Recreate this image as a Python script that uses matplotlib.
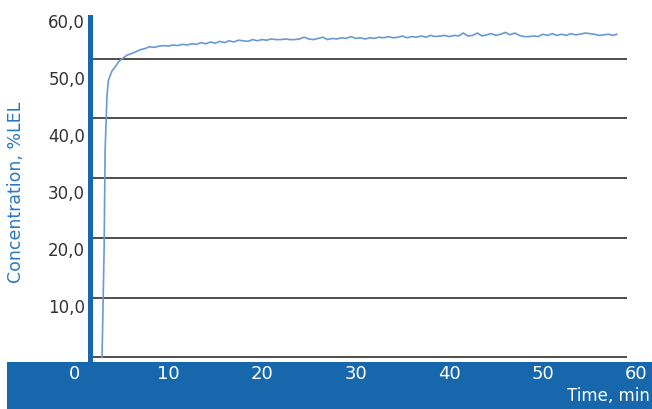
import matplotlib
matplotlib.use("Agg")
import matplotlib.pyplot as plt

# measured concentration trace (%LEL) against time (min)
time_min = [
    2.92, 3.14, 3.25, 3.36, 3.45, 3.6, 4.0, 4.36, 4.7, 5.07, 5.6, 6.3, 7.0, 7.5,
    8.0, 8.5, 9.0, 9.5, 10.0, 10.5, 11.0, 11.5, 12.0, 12.5, 13.0, 13.5, 14.0, 14.5,
    15.0, 15.5, 16.0, 16.5, 17.0, 17.5, 18.0, 18.5, 19.0, 19.5, 20.0, 20.5, 21.0, 21.5,
    22.0, 22.5, 23.0, 23.5, 24.0, 24.5, 25.0, 25.5, 26.0, 26.5, 27.0, 27.5, 28.0, 28.5,
    29.0, 29.5, 30.0, 30.5, 31.0, 31.5, 32.0, 32.5, 33.0, 33.5, 34.0, 34.5, 35.0, 35.5,
    36.0, 36.5, 37.0, 37.5, 38.0, 38.5, 39.0, 39.5, 40.0, 40.5, 41.0, 41.5, 42.0, 42.5,
    43.0, 43.5, 44.0, 44.5, 45.0, 45.5, 46.0, 46.5, 47.0, 47.5, 48.0, 48.5, 49.0, 49.5,
    50.0, 50.5, 51.0, 51.5, 52.0, 52.5, 53.0, 53.5, 54.0, 54.5, 55.0, 55.5, 56.0, 56.5,
    57.0, 57.5, 57.9,
]
conc_lel = [
    0.0, 17.9, 34.7, 39.7, 43.9, 46.4, 48.0, 48.7, 49.5, 50.0, 50.6, 51.0, 51.5, 51.7,
    52.0, 51.9, 52.1, 52.2, 52.1, 52.3, 52.2, 52.4, 52.3, 52.5, 52.4, 52.7, 52.5, 52.8,
    52.6, 52.9, 52.7, 53.0, 52.8, 53.1, 53.0, 52.9, 53.2, 53.0, 53.2, 53.1, 53.3, 53.2,
    53.2, 53.3, 53.2, 53.2, 53.3, 53.6, 53.3, 53.2, 53.4, 53.6, 53.2, 53.4, 53.3, 53.5,
    53.4, 53.7, 53.4, 53.5, 53.3, 53.5, 53.4, 53.6, 53.5, 53.7, 53.5, 53.6, 53.8, 53.5,
    53.7, 53.6, 53.8, 53.6, 53.9, 53.7, 53.8, 53.9, 53.7, 53.9, 53.8, 54.3, 53.8, 53.9,
    54.3, 53.8, 54.0, 54.2, 53.9, 54.1, 54.4, 54.0, 54.3, 53.9, 53.7, 53.7, 53.8, 53.7,
    54.1, 53.9, 54.2, 53.9, 54.1, 53.9, 54.2, 54.0, 54.1, 54.3, 54.2, 54.1, 53.9, 54.0,
    54.1, 53.9, 54.1,
]

grid_levels = [0, 10, 20, 30, 40, 50]
y_tick_values = [10, 20, 30, 40, 50, 60]
y_tick_labels = ["10,0", "20,0", "30,0", "40,0", "50,0", "60,0"]
x_tick_values = [0, 10, 20, 30, 40, 50, 60]

BLUE = "#1767ad"
LINE_BLUE = "#6a99d5"
W, H = 652, 409


def box(left, top, right, bottom):
    return [left / W, 1 - bottom / H, (right - left) / W, (bottom - top) / H]


def px_to_t(px):
    return (px - 74.7) / 9.363


plt.rcParams["font.family"] = ["DejaVu Sans"]

fig = plt.figure(figsize=(W / 100, H / 100), dpi=100)

ax = fig.add_axes(box(90, 17, 627, 362))
ax.set_xlim(px_to_t(90), px_to_t(627))
ax.set_ylim((357.3 - 362) / 5.972, (357.3 - 17) / 5.972)
ax.hlines(grid_levels, px_to_t(92), px_to_t(627), color="#1e1e1e", linewidth=1.1, zorder=1)
ax.plot(time_min, conc_lel, color=LINE_BLUE, linewidth=1.2, zorder=2)
for side in ("top", "right", "bottom"):
    ax.spines[side].set_visible(False)
ax.spines["left"].set_color(BLUE)
ax.spines["left"].set_linewidth(3.6)
ax.spines["left"].set_zorder(3)
ax.set_xticks([])
ax.set_yticks([])

# tick labels sit on their own scale in the original, a little below each gridline
lab = ax.twinx()
lab.set_ylim(0.18, 60.7)
lab.yaxis.tick_left()
lab.set_yticks(y_tick_values)
lab.set_yticklabels(y_tick_labels)
lab.tick_params(axis="y", length=0, pad=3.5, labelsize=12, labelcolor="#333333")
for side in lab.spines:
    lab.spines[side].set_visible(False)

band = fig.add_axes(box(6.7, 361.7, 652, 409))
band.set_facecolor(BLUE)
band.set_xlim(px_to_t(6.7), px_to_t(652))
band.set_ylim(0, 1)
band.xaxis.tick_top()
band.set_xticks(x_tick_values)
band.tick_params(axis="x", length=0, pad=-15.5, labelsize=13, labelcolor="white")
band.set_yticks([])
for side in band.spines:
    band.spines[side].set_visible(False)

fig.text(650 / W, 1 - 396 / H, "Time, min", color="white", fontsize=12,
         ha="right", va="center")
fig.text(16 / W, 1 - 192 / H, "Concentration, %LEL", color="#2a78bf", fontsize=12.5,
         rotation=90, ha="center", va="center")

fig.savefig("out.png", dpi=100)
